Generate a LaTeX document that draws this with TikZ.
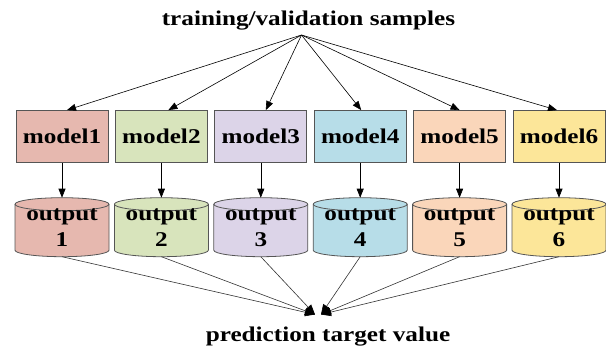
\documentclass[tikz,border=0pt]{standalone}
\usepackage{fontspec}
\setmainfont{Liberation Serif}[FakeStretch=1.2]
\usetikzlibrary{arrows.meta}
\definecolor{c1}{RGB}{230,184,175}
\definecolor{c2}{RGB}{216,228,188}
\definecolor{c3}{RGB}{220,212,232}
\definecolor{c4}{RGB}{183,221,232}
\definecolor{c5}{RGB}{250,214,186}
\definecolor{c6}{RGB}{252,230,153}
\definecolor{edgegray}{RGB}{85,85,85}
\begin{document}
\begin{tikzpicture}[x=1pt,y=-1pt,
  lbl/.style={inner sep=0pt, font=\fontsize{21}{26}\selectfont\bfseries},
  modelbox/.style={lbl, draw=edgegray, line width=0.8pt, minimum width=92pt, minimum height=52pt},
  cyl/.style={draw=edgegray, line width=0.8pt},
  arr/.style={-{Triangle[length=9pt,width=7pt]}, line width=0.6pt, black},
  botarr/.style={-{Triangle[length=10pt,width=8pt,color=black,fill=black]}, line width=0.6pt, draw=black!80}]
\useasboundingbox (0,0) rectangle (606,349);
\node[lbl, anchor=base] (src) at (308.5,25) {training/validation samples};
\coordinate (s) at (301.5,35);
\foreach \i/\x/\c/\dx in {1/62/c1/5, 2/161.4/c2/7, 3/260.8/c3/5, 4/360.2/c4/1, 5/459.6/c5/0, 6/559/c6/-2}{
  \node[modelbox, fill=\c] (m\i) at (\x,136.5) {model\i};
  \filldraw[cyl, fill=\c] (\x-47,204.2) -- (\x-47,250.2) arc(180:0:47 and 6.5) -- (\x+47,204.2) arc(0:-180:47 and 6.5) -- cycle;
  \draw[cyl] (\x-47,204.2) arc(180:0:47 and 6.5);
  \node[lbl, align=center] (o\i) at (\x,227.5) {output\\\i};
  \coordinate (ot\i) at (\x,197.7);
  \coordinate (ob\i) at (\x,256.7);
  \draw[arr] (s) -- ([xshift=\dx pt]m\i.north);
  \draw[arr] (m\i.south) -- (ot\i);
}
\coordinate (pl) at (315,314.5);
\coordinate (pr) at (321,314.5);
\foreach \i in {1,2,3}{\draw[botarr] (ob\i) -- (pl);}
\foreach \i in {4,5,6}{\draw[botarr] (ob\i) -- (pr);}
\node[lbl, anchor=base] (tgt) at (328,341) {prediction target value};
\end{tikzpicture}
\end{document}
